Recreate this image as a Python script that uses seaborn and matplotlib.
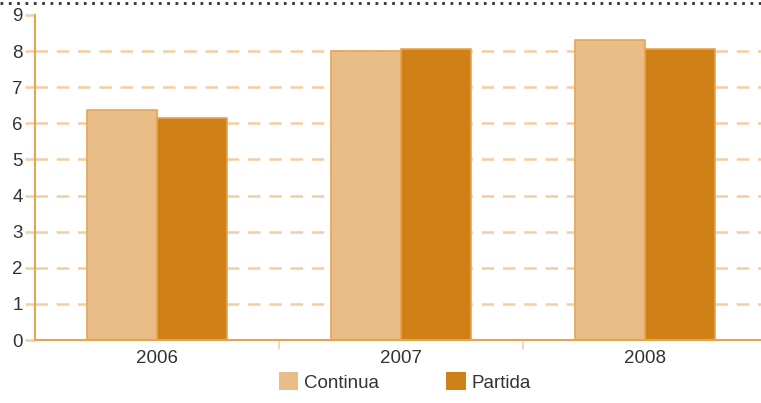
import matplotlib
matplotlib.use("Agg")
import matplotlib.pyplot as plt
from matplotlib.lines import Line2D
from matplotlib.patches import Patch
import seaborn as sns
import pandas as pd

years = ["2006", "2007", "2008"]
continua = [6.37, 8.0, 8.3]
partida = [6.15, 8.05, 8.05]
series_names = ["Continua", "Partida"]
yticks = list(range(0, 10))

df = pd.DataFrame({
    "year": years * 2,
    "value": continua + partida,
    "serie": [series_names[0]] * 3 + [series_names[1]] * 3,
})

sns.set_theme(style="white")
plt.rcParams["font.family"] = ["Liberation Sans", "DejaVu Sans"]

c_light = "#E9BD87"
c_dark = "#CF8118"
c_axis = "#E5A552"
c_grid = "#F4CDA2"

fig = plt.figure(figsize=(7.61, 4.03), dpi=100)
ax = fig.add_axes([0.046, 0.156, 0.962, 0.807])

sns.barplot(data=df, x="year", y="value", hue="serie", palette=[c_light, c_dark],
            saturation=1, width=0.574, gap=0, edgecolor=c_axis, linewidth=1.2,
            legend=False, ax=ax)

ax.set_xlim(-0.5, 2.5)
ax.set_ylim(0, 9)
ax.set_yticks(yticks)
ax.set_xlabel("")
ax.set_ylabel("")
# dashed guide lines for 1..8 (none at the top)
for y in yticks[1:-1]:
    ax.axhline(y, linestyle=(0, (5, 3.5)), color=c_grid, linewidth=1.8, zorder=0)

for s in ["top", "right"]:
    ax.spines[s].set_visible(False)
for s in ["left", "bottom"]:
    ax.spines[s].set_color(c_axis)
    ax.spines[s].set_linewidth(1.5)

ax.tick_params(axis="y", left=True, length=7, color=c_grid, width=1.8, labelsize=13.5,
               labelcolor="#333333", pad=2)
ax.tick_params(axis="x", length=0, labelsize=13.5, labelcolor="#333333", pad=7)
for xb in [0.5, 1.5]:
    ax.plot([xb, xb], [-0.05, -0.25], color="#F0D2B0", lw=1.2, clip_on=False)

handles = [Patch(facecolor=c_light, edgecolor="none"), Patch(facecolor=c_dark, edgecolor="none")]
fig.legend(handles, series_names, loc="center", bbox_to_anchor=(0.532, 0.052), ncol=2,
           frameon=False, fontsize=13.5, handlelength=1.05, handleheight=1.05,
           handletextpad=0.3, columnspacing=3.6, labelcolor="#333333")

fig.add_artist(Line2D([0, 1], [0.993, 0.993], color="#333333", lw=2,
                      linestyle=(0, (1, 2)), transform=fig.transFigure))

fig.savefig("out.png", dpi=100)
